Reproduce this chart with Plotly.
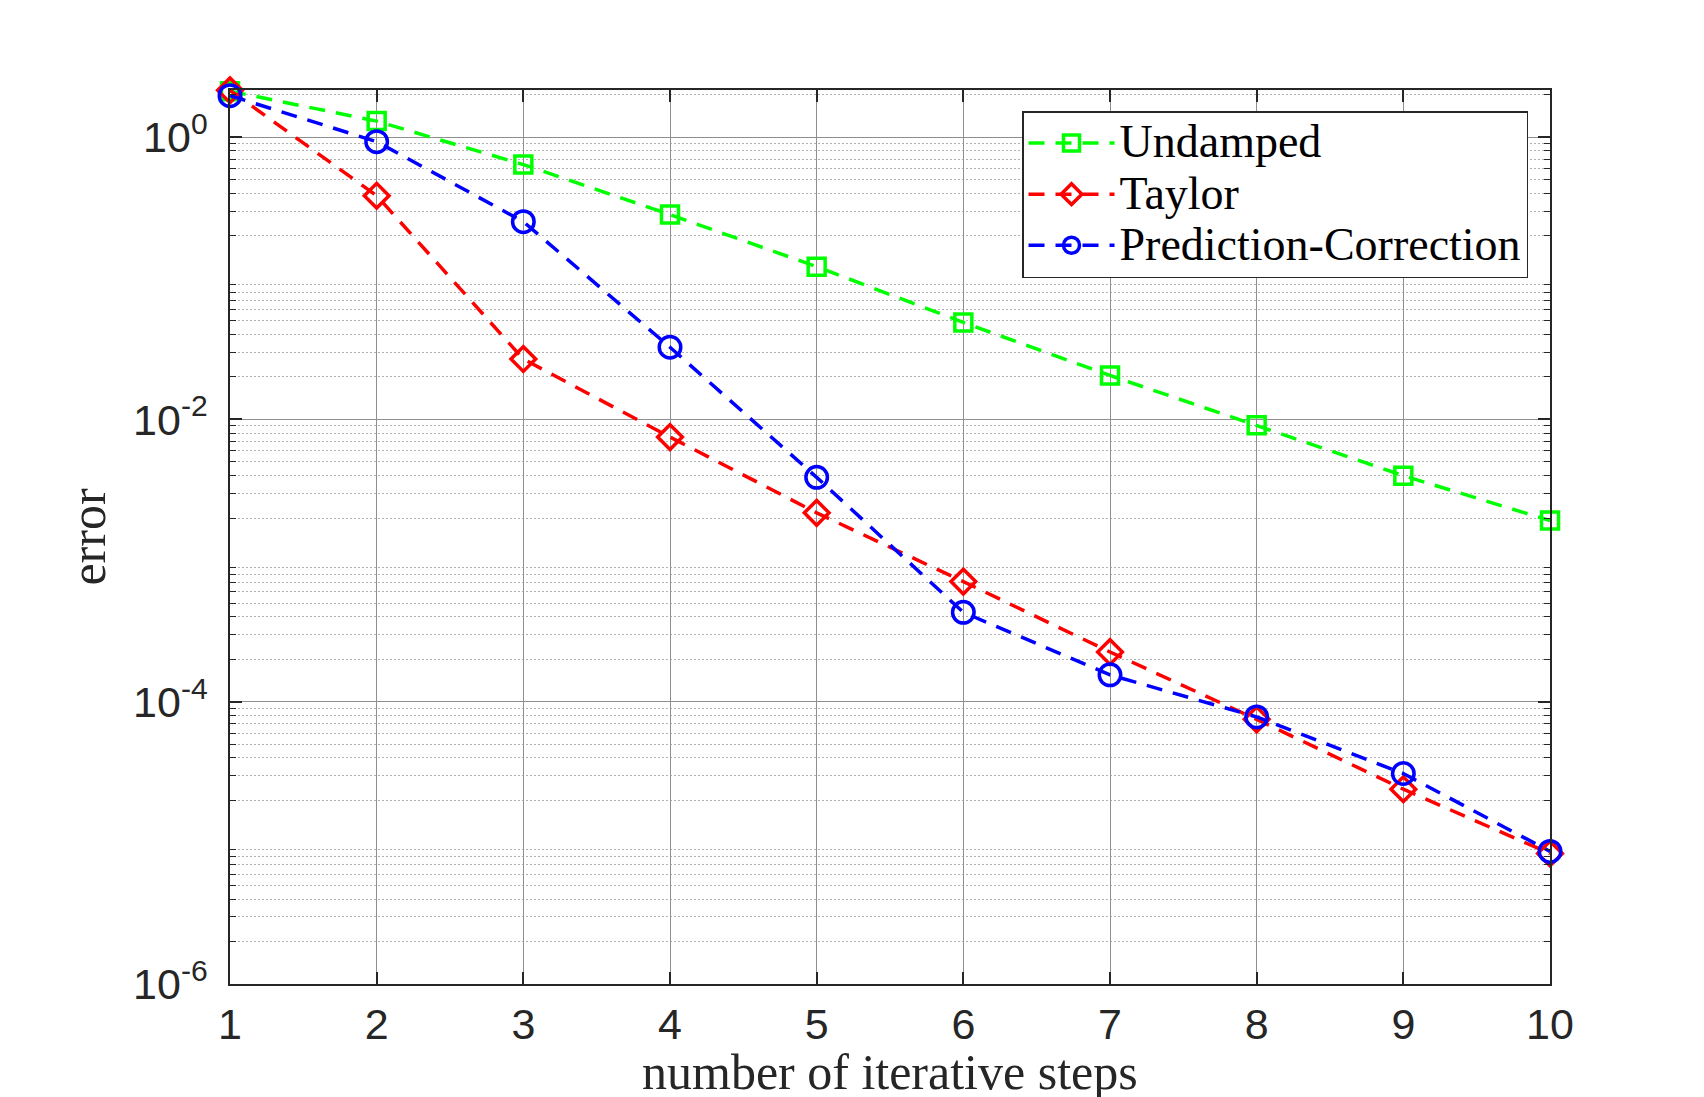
import plotly.graph_objects as go
import numpy as np

steps = [1, 2, 3, 4, 5, 6, 7, 8, 9, 10]
undamped = [2.12, 1.30, 0.64, 0.283, 0.121, 0.0487, 0.0205, 0.0091, 0.0040, 0.00192]
taylor = [2.15, 0.385, 0.0268, 0.00750, 0.00218, 0.00071, 0.000225, 7.5e-5, 2.4e-5, 8.4e-6]
pred_corr = [1.97, 0.93, 0.252, 0.0325, 0.00389, 0.00043, 0.000155, 7.8e-5, 3.1e-5, 8.7e-6]

series_names = ["Undamped", "Taylor", "Prediction-Correction"]
y_tickvals = [1e-6, 1e-4, 1e-2, 1]
y_ticktext = ["10<sup>-6</sup>", "10<sup>-4</sup>", "10<sup>-2</sup>", "10<sup>0</sup>"]
x_ticks = [1, 2, 3, 4, 5, 6, 7, 8, 9, 10]
x_title = "number of iterative steps"
y_title = "error"

minor_vals = [m * 10.0 ** e for e in range(-6, 1) for m in range(2, 10)]

W, H = 1704, 1097
L, R, T, B = 221.5, 1542, 82, 976

fig = go.Figure()
styles = [
    dict(color="#00FF00", symbol="square-open", size=17),
    dict(color="#FF0000", symbol="diamond-open", size=19),
    dict(color="#0000FF", symbol="circle-open", size=21.5),
]
for name, ys, st in zip(series_names, [undamped, taylor, pred_corr], styles):
    fig.add_trace(go.Scatter(
        x=steps, y=ys,
        name="<span style='font-size:46px'>" + name + "</span>",
        mode="lines+markers",
        line=dict(color=st["color"], width=3.5, dash="16px,11px"),
        marker=dict(symbol=st["symbol"], size=st["size"], color=st["color"],
                    line=dict(color=st["color"], width=3.5)),
        cliponaxis=False,
    ))

axis_col = "#262626"
fig.update_layout(
    width=W, height=H,
    margin=dict(l=L, r=W - R, t=T, b=H - B, pad=0),
    paper_bgcolor="white", plot_bgcolor="white",
    showlegend=True,
    legend=dict(
        x=(1520 - L) / (R - L), y=1 - (103 - T) / (B - T),
        xanchor="right", yanchor="top",
        bgcolor="white", bordercolor=axis_col, borderwidth=1.5,
        font=dict(family="Liberation Serif", size=37, color="black"),
        itemwidth=86, tracegroupgap=0,
    ),
    xaxis=dict(
        range=[1, 10], tickvals=x_ticks, ticktext=[str(v) for v in x_ticks],
        showgrid=True, gridcolor="#8f8f8f", gridwidth=1,
        showline=True, linecolor=axis_col, linewidth=1.5, mirror="ticks",
        ticks="inside", ticklen=12, tickwidth=1.5, tickcolor=axis_col,
        tickfont=dict(family="Liberation Sans", size=43, color=axis_col),
        ticklabelstandoff=2, zeroline=False,
    ),
    yaxis=dict(
        type="log", range=[-6, np.log10(2.16)],
        tickvals=y_tickvals, ticktext=y_ticktext,
        showgrid=True, gridcolor="#8f8f8f", gridwidth=1,
        showline=True, linecolor=axis_col, linewidth=1.5, mirror="ticks",
        ticks="inside", ticklen=12, tickwidth=1.5, tickcolor=axis_col,
        tickfont=dict(family="Liberation Sans", size=43, color=axis_col),
        ticklabelstandoff=12, zeroline=False,
        minor=dict(tickmode="array", tickvals=minor_vals, ticks="inside", ticklen=6,
                   tickwidth=1, tickcolor=axis_col, showgrid=True,
                   gridcolor="#b0b0b0", gridwidth=1, griddash="2px,2px"),
        title=dict(text=y_title, standoff=12,
                   font=dict(family="Liberation Serif", size=50, color=axis_col)),
    ),
)

fig.add_annotation(
    text=x_title, xref="paper", yref="paper", x=0.5, y=-(1064 - B) / (B - T),
    xanchor="center", yanchor="middle", showarrow=False,
    font=dict(family="Liberation Serif", size=50, color=axis_col),
)

fig.write_html("out.html")
